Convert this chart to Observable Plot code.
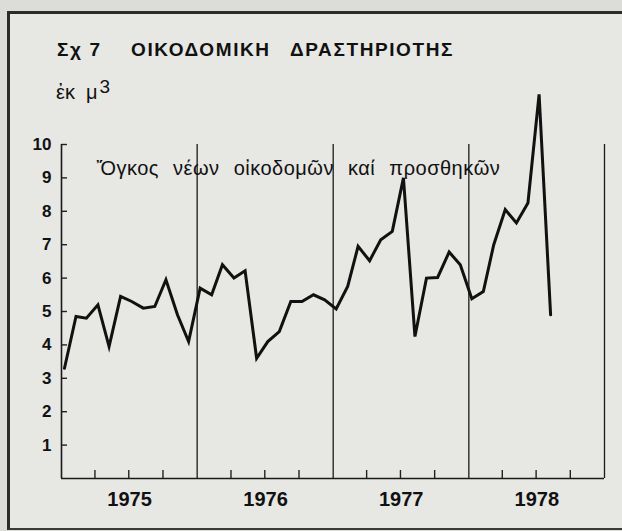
<!DOCTYPE html>
<html>
<head>
<meta charset="utf-8">
<script src="https://cdn.jsdelivr.net/npm/d3@7"></script>
<script src="https://cdn.jsdelivr.net/npm/@observablehq/plot@0.6"></script>
<style>
  html, body { margin: 0; padding: 0; }
  body { width: 622px; height: 531px; overflow: hidden; position: relative; background: #dcdcd9; font-family: "Liberation Sans", Arial, sans-serif; color: #111; }
  #frame { position: absolute; left: 7px; top: 11px; width: 640px; height: 514px; border-top: 3px solid #2b2b2b; border-left: 3px solid #2b2b2b; border-bottom: 2px solid #3a3a3a; background: #e7e7e4; }
  #chart { position: absolute; left: 0; top: 0; }
  .t { position: absolute; white-space: nowrap; line-height: 1; }
  .title { font-weight: bold; font-size: 19px; letter-spacing: 1.6px; top: 40px; }
  .unit { font-size: 20px; left: 56px; top: 82px; }
  .unit sup { font-size: 19px; position: relative; top: -6px; vertical-align: baseline; margin-left: 2px; }
</style>
</head>
<body>
<div id="frame"></div>
<div class="t title" style="left:57px">Σχ 7</div>
<div class="t title" style="left:131px">ΟΙΚΟΔΟΜΙΚΗ</div>
<div class="t title" style="left:290px">ΔΡΑΣΤΗΡΙΟΤΗΣ</div>
<div class="t unit">ἐκ&nbsp;&nbsp;μ<sup>3</sup></div>
<div id="chart"></div>
<script>
// Monthly values (millions m³)
const volume1975 = [3.3, 4.85, 4.8, 5.2, 3.95, 5.45, 5.3, 5.1, 5.15, 5.95, 4.9, 4.1];
const volume1976 = [5.7, 5.5, 6.4, 6.0, 6.22, 3.6, 4.1, 4.4, 5.3, 5.3, 5.5, 5.35];
const volume1977 = [5.08, 5.75, 6.95, 6.52, 7.15, 7.4, 9.0, 4.25, 6.0, 6.02, 6.78, 6.4];
const volume1978 = [5.38, 5.6, 7.0, 8.05, 7.65, 8.25, 11.5, 4.9];
const years = [1975, 1976, 1977, 1978];
const yTicks = [1, 2, 3, 4, 5, 6, 7, 8, 9, 10];
const seriesLabel = "Ὄγκος νέων οἰκοδομῶν καί προσθηκῶν";

const seriesByYear = [volume1975, volume1976, volume1977, volume1978];
const data = [];
seriesByYear.forEach((vals, yi) => {
  vals.forEach((v, m) => data.push({date: new Date(Date.UTC(years[yi], m, 9)), value: v}));
});
const yearStarts = years.map(y => new Date(Date.UTC(y, 0, 1)));
const yearEnd = new Date(Date.UTC(years[years.length - 1] + 1, 0, 1));
const separators = [...yearStarts.slice(1), yearEnd];
const quarterTicks = years.flatMap(y => [3, 6, 9].map(m => new Date(Date.UTC(y, m, 1))));
const yearMids = years.map(y => new Date(Date.UTC(y, 6, 3)));

const plot = Plot.plot({
  width: 622,
  height: 531,
  marginLeft: 61,
  marginRight: 18,
  marginTop: 144,
  marginBottom: 53,
  style: {background: "transparent", fontFamily: "'Liberation Sans', Arial, sans-serif", color: "#111", overflow: "visible"},
  x: {type: "utc", domain: [yearStarts[0], yearEnd], label: null},
  y: {domain: [0, 10], label: null},
  marks: [
    Plot.axisY(yTicks, {tickSize: -6, tickFormat: () => "", label: null, strokeWidth: 1.4, stroke: "#222"}),
    Plot.axisY(yTicks, {tickSize: 0, tickPadding: 10, label: null, fontWeight: "bold", fontSize: 17, fill: "#111"}),
    Plot.axisX(quarterTicks, {tickSize: -8, tickFormat: () => "", label: null, strokeWidth: 1.4, stroke: "#222"}),
    Plot.axisX(yearMids, {tickSize: 0, tickPadding: 13, label: null, tickFormat: d => String(d.getUTCFullYear()), fontWeight: "bold", fontSize: 20, fill: "#111"}),
    Plot.ruleX([yearStarts[0]], {y1: 0, y2: 10, stroke: "#1a1a1a", strokeWidth: 1.6}),
    Plot.ruleX(separators, {y1: 0, y2: 10, stroke: "#1a1a1a", strokeWidth: 1.3}),
    Plot.ruleY([0], {x1: yearStarts[0], x2: yearEnd, stroke: "#1a1a1a", strokeWidth: 1.6}),
    Plot.text([seriesLabel], {frameAnchor: "top-left", dx: 35, dy: 16, textAnchor: "start", fontSize: 20, fill: "#111"}),
    Plot.line(data, {x: "date", y: "value", stroke: "#111", strokeWidth: 3, strokeLinejoin: "miter", strokeMiterlimit: 6})
  ]
});
d3.select(plot).selectAll("text").filter(function() { return this.textContent === seriesLabel; })
  .style("letter-spacing", "0.5px").style("word-spacing", "8px");
document.getElementById("chart").appendChild(plot);
</script>
</body>
</html>
